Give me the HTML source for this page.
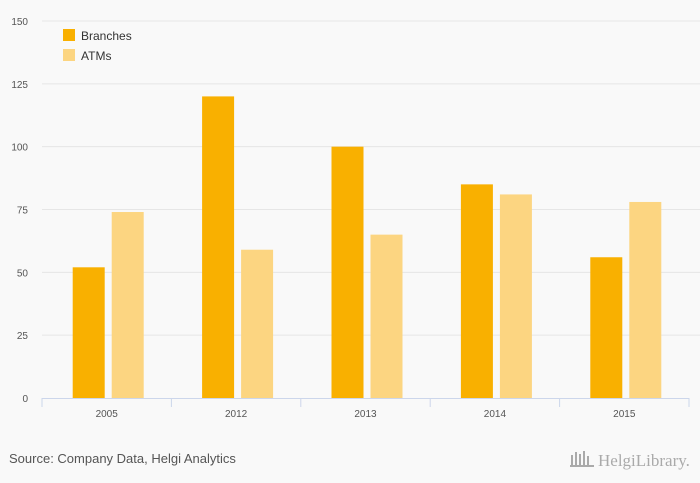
<!DOCTYPE html>
<html><head><meta charset="utf-8"><style>
body{margin:0;background:#f9f9f9;font-family:"Liberation Sans",sans-serif;}
svg{display:block}
</style></head><body>
<svg id="chart" width="700" height="483" xmlns="http://www.w3.org/2000/svg">
<rect width="700" height="483" fill="#f9f9f9"/>
<g id="grid"></g><g id="bars"></g><g id="axis"></g>
<g>
<rect x="63" y="29" width="12" height="12" fill="#f9b000"/>
<text x="81" y="40" font-size="12" fill="#333">Branches</text>
<rect x="63" y="49" width="12" height="12" fill="#fcd581"/>
<text x="81" y="60" font-size="12" fill="#333">ATMs</text>
</g>
<text x="9" y="463" font-size="13" fill="#555">Source: Company Data, Helgi Analytics</text>
<text x="598" y="466" font-size="17" fill="#aaa" font-family="Liberation Serif, serif">HelgiLibrary.</text>
<g fill="#aaa"><rect x="571" y="455" width="2" height="12"/><rect x="575" y="452" width="2" height="15"/><rect x="579" y="454" width="2" height="13"/><rect x="583" y="451" width="2" height="16"/><rect x="587" y="456" width="2" height="11"/><rect x="570" y="465" width="24" height="2"/></g>
</svg>
<script>
const categories=["2005","2012","2013","2014","2015"];
const branches=[52,120,100,85,56];
const atms=[74,59,65,81,78];
const yTicks=[0,25,50,75,100,125,150];
const NS="http://www.w3.org/2000/svg";
const x0=42,x1=689,y0=398,yTop=21,yMax=150;
const y=v=>y0-(v/yMax)*(y0-yTop);
const bandW=(x1-x0)/categories.length;
function mk(t,a,p){const e=document.createElementNS(NS,t);for(const k in a)e.setAttribute(k,a[k]);p.appendChild(e);return e;}
const grid=document.getElementById('grid'),bars=document.getElementById('bars'),axis=document.getElementById('axis');
yTicks.forEach(v=>{
  if(v>0){const l=mk('line',{x1:x0,x2:x1+11,y1:y(v),y2:y(v),stroke:'#e6e6e6','stroke-width':1},grid);
  
  }
  const t=mk('text',{x:28,y:y(v)+4,'font-size':10,fill:'#555','text-anchor':'end'},grid);
  t.textContent=v;
  
  
});
categories.forEach((c,i)=>{
  const cx=x0+bandW*(i+0.5);
  const b=mk('rect',{x:cx-34,y:y(branches[i]),width:32,height:y0-y(branches[i]),fill:'#f9b000'},bars);
  
  
  const a=mk('rect',{x:cx+5,y:y(atms[i]),width:32,height:y0-y(atms[i]),fill:'#fcd581'},bars);
  
  
  const t=mk('text',{x:cx,y:417,'font-size':10,fill:'#555','text-anchor':'middle'},axis);
  t.textContent=c;
  
  
});
for(let i=0;i<=categories.length;i++){
  const tx=x0+bandW*i;
  const tk=mk('line',{x1:tx,x2:tx,y1:y0,y2:y0+9,stroke:'#ccd6eb'},axis);
  
  
}
const ax=mk('line',{x1:x0,x2:x1,y1:y0+0.5,y2:y0+0.5,stroke:'#ccd6eb'},axis);


</script>
</body></html>
